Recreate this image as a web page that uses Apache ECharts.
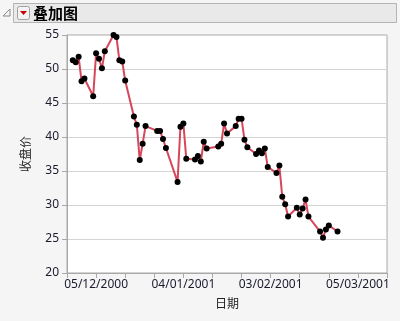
<!DOCTYPE html>
<html>
<head>
<meta charset="utf-8">
<script src="https://cdn.jsdelivr.net/npm/echarts@6/dist/echarts.min.js"></script>
<style>
html,body{margin:0;padding:0;background:#f5f5f5;}
#c{width:400px;height:321px;}
</style>
</head>
<body>
<div id="c"></div>
<script>
// Data
const dates = [
 '2000-11-27','2000-11-28','2000-11-29','2000-11-30','2000-12-01',
 '2000-12-04','2000-12-05','2000-12-06','2000-12-07','2000-12-08',
 '2000-12-11','2000-12-12','2000-12-13','2000-12-14','2000-12-15',
 '2000-12-18','2000-12-19','2000-12-20','2000-12-21','2000-12-22',
 '2000-12-26','2000-12-27','2000-12-28','2000-12-29',
 '2001-01-02','2001-01-03','2001-01-04','2001-01-05',
 '2001-01-08','2001-01-09','2001-01-10','2001-01-11','2001-01-12',
 '2001-01-16','2001-01-17','2001-01-18','2001-01-19',
 '2001-01-22','2001-01-23','2001-01-24','2001-01-25','2001-01-26',
 '2001-01-29','2001-01-30','2001-01-31','2001-02-01','2001-02-02',
 '2001-02-05','2001-02-06','2001-02-07','2001-02-08','2001-02-09',
 '2001-02-12','2001-02-13','2001-02-14','2001-02-15','2001-02-16',
 '2001-02-20','2001-02-21','2001-02-22','2001-02-23',
 '2001-02-26'
];
const closePrices = [
 51.3,51.0,51.8,48.2,48.6,
 46.0,52.3,51.5,50.1,52.6,
 55.0,54.7,51.3,51.1,48.3,
 43.0,41.8,36.6,39.0,41.6,
 40.9,40.9,39.7,38.4,
 33.4,41.5,42.0,36.8,
 36.7,37.2,36.4,39.3,38.3,
 38.6,39.0,42.0,40.5,
 41.6,42.7,42.7,39.6,38.5,
 37.5,38.0,37.6,38.3,35.6,
 34.7,35.8,31.2,30.1,28.3,
 29.6,28.6,29.5,30.8,28.3,
 26.1,25.2,26.4,27.0,
 26.1
];
const xAxisStart = '2000-11-25';
const xAxisEnd = '2001-03-15';
const xTickLabels = ['05/12/2000','04/01/2001','03/02/2001','05/03/2001'];
const yTicks = [20,25,30,35,40,45,50,55];
const titleText = '叠加图';
const xName = '日期';
const yName = '收盘价';

const DAY = 86400000;
function toUTC(s){const p=s.split('-').map(Number);return Date.UTC(p[0],p[1]-1,p[2]);}
const origin = toUTC(xAxisStart);
function dayOf(s){return Math.round((toUTC(s)-origin)/DAY);}
function fmt(v){
  const d=new Date(origin+v*DAY);
  const dd=String(d.getUTCDate()).padStart(2,'0');
  const mm=String(d.getUTCMonth()+1).padStart(2,'0');
  return dd+'/'+mm+'/'+d.getUTCFullYear();
}
const seriesData = dates.map((d,i)=>[dayOf(d), closePrices[i]]);
const xMax = dayOf(xAxisEnd);

const font = '"Noto Sans","Noto Sans CJK SC",sans-serif';
const chart = echarts.init(document.getElementById('c'), null, {renderer:'canvas'});
chart.setOption({
  backgroundColor:'#f5f5f5',
  animation:false,
  graphic:[
    {type:'rect',shape:{x:13.5,y:3.5,width:383,height:19},style:{fill:'#e9e9e9',stroke:'#b4b4b4',lineWidth:1}},
    {type:'polygon',shape:{points:[[10,9],[10,16],[3,16]]},style:{fill:'none',stroke:'#8a8a8a',lineWidth:1}},
    {type:'rect',shape:{x:17.5,y:6.5,width:12,height:13,r:2},style:{fill:'#f3f3f3',stroke:'#a0a0a0',lineWidth:1}},
    {type:'polygon',shape:{points:[[20,11],[27,11],[23.5,15]]},style:{fill:'#cc0000'}},
    {type:'text',x:33,y:13,style:{text:titleText,font:'bold 15px "Noto Sans CJK SC",sans-serif',fill:'#000',textVerticalAlign:'middle'}}
  ],
  grid:{left:67,top:35,right:13,bottom:48,show:true,backgroundColor:'#ffffff',borderColor:'#a8a8a8',borderWidth:1,containLabel:false},
  xAxis:{
    type:'value',min:0,max:xMax,interval:10,
    name:xName,nameLocation:'middle',nameGap:26,
    nameTextStyle:{fontSize:12,color:'#222',fontFamily:font},
    axisLine:{show:true,lineStyle:{color:'#a8a8a8'}},
    axisTick:{show:true,length:5,lineStyle:{color:'#a8a8a8'}},
    splitLine:{show:false},
    axisLabel:{fontSize:12,color:'#1a1a2e',fontFamily:font,margin:6,
      showMinLabel:true,showMaxLabel:true,
      formatter:function(v){const s=fmt(v);return xTickLabels.indexOf(s)>=0?s:'';}}
  },
  yAxis:{
    type:'value',min:yTicks[0],max:yTicks[yTicks.length-1],interval:yTicks[1]-yTicks[0],
    name:yName,nameLocation:'middle',nameGap:34,nameRotate:90,
    nameTextStyle:{fontSize:12,color:'#222',fontFamily:font},
    axisLine:{show:true,lineStyle:{color:'#a8a8a8'}},
    axisTick:{show:true,length:5,lineStyle:{color:'#a8a8a8'}},
    splitLine:{show:true,lineStyle:{color:'#d4d4d4',width:1}},
    axisLabel:{fontSize:12,color:'#1a1a2e',fontFamily:font,margin:8}
  },
  series:[{
    type:'line',data:seriesData,
    lineStyle:{color:'#d6475b',width:2},
    itemStyle:{color:'#000000'},
    symbol:'circle',symbolSize:6,showAllSymbol:true
  }]
});
</script>
</body>
</html>
